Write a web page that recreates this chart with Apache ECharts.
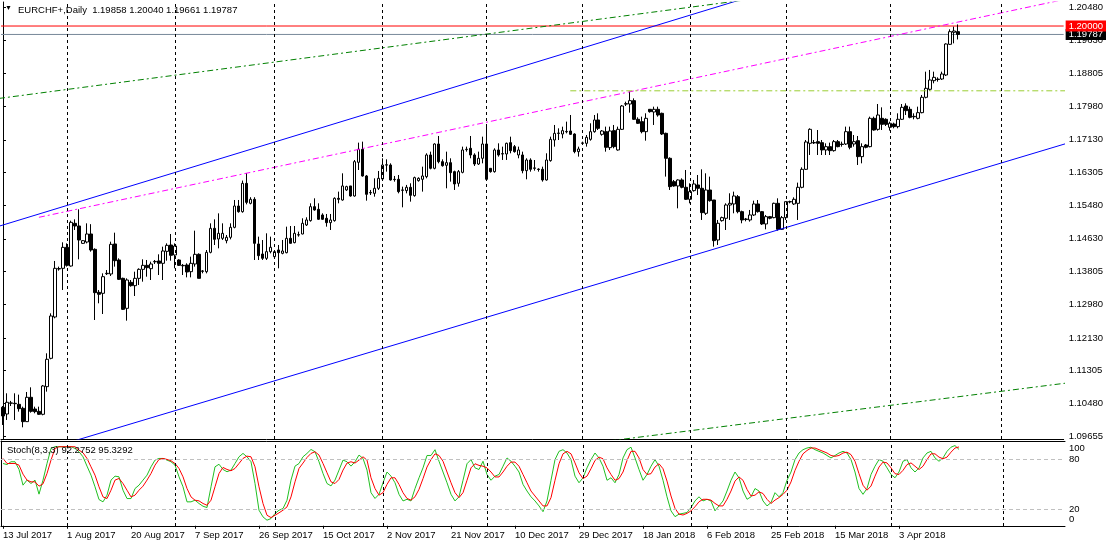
<!DOCTYPE html>
<html><head><meta charset="utf-8">
<script src="https://cdn.jsdelivr.net/npm/echarts@6/dist/echarts.min.js"></script>
<style>html,body{margin:0;padding:0;background:#fff}#c{width:1109px;height:547px}</style>
</head><body><div id="c"></div>
<script>
const symbolName = 'EURCHF+';
const periodName = 'Daily';
const startDate = [2017, 6, 13];
const missingDates = ['2017-12-24', '2017-12-31'];
const totalSlots = 266;
const labelEvery = 16;

const opens = [
1.10379,1.10210,1.10480,1.10480,1.10454,1.10353,1.10017,1.10631,1.10336,1.10277,
1.10202,1.10900,1.11615,1.12658,1.13869,1.13886,1.14415,1.13944,1.15021,1.14954,
1.14516,1.14550,1.14752,1.14365,1.13280,1.13255,1.13750,1.13743,1.14500,1.14096,
1.13633,1.12876,1.13532,1.13448,1.13633,1.13860,1.13961,1.13877,1.14050,1.14071,
1.14012,1.14314,1.14474,1.14222,1.14096,1.13960,1.13970,1.13801,1.13995,1.14239,
1.13820,1.13801,1.14289,1.14895,1.14626,1.14643,1.14584,1.14668,1.14920,1.15458,
1.15315,1.16030,1.15526,1.15627,1.14500,1.14247,1.14138,1.14306,1.14180,1.14349,
1.14264,1.14281,1.14643,1.14534,1.14727,1.14752,1.14980,1.15089,1.15442,1.15375,
1.15232,1.15148,1.15038,1.15089,1.15652,1.15610,1.15863,1.15964,1.15711,1.16561,
1.16889,1.16216,1.15790,1.15778,1.15905,1.16140,1.16490,1.16493,1.16132,1.16132,
1.15863,1.15846,1.15930,1.15720,1.16098,1.16132,1.16199,1.16746,1.16409,1.17023,
1.16577,1.16485,1.16552,1.16325,1.16031,1.16308,1.16880,1.16914,1.16746,1.16518,
1.16662,1.17023,1.16409,1.16325,1.16872,1.16770,1.16771,1.17057,1.16956,1.16746,
1.16746,1.16350,1.16619,1.16420,1.16390,1.16384,1.16115,1.16603,1.17124,1.17290,
1.17275,1.17330,1.17351,1.17275,1.16830,1.17040,1.17040,1.17141,1.17334,1.17629,
1.17267,1.17334,1.16931,1.17360,1.16872,1.17393,1.18030,1.18032,1.18117,1.17646,
1.17587,1.17334,1.17898,1.17831,1.17898,1.17797,1.17292,1.16662,1.16073,1.15964,
1.16115,1.15930,1.15627,1.15846,1.15989,1.15905,1.15274,1.15862,1.15610,1.14601,
1.15089,1.15148,1.15484,1.15510,1.15694,1.15316,1.15130,1.15106,1.15232,1.15510,
1.15316,1.15005,1.15190,1.15165,1.15526,1.14870,1.15165,1.15560,1.15510,1.15526,
1.15930,1.16384,1.17040,1.17050,1.17082,1.17057,1.16872,1.16956,1.16855,1.17082,
1.17020,1.17023,1.17334,1.17023,1.17107,1.16704,1.16998,1.16956,1.17671,1.17393,
1.17671,1.17646,1.17444,1.17528,1.17461,1.17646,1.17982,1.17898,1.17720,1.17671,
1.17814,1.18201,1.18403,1.18621,1.18660,1.18663,1.18764,1.19538,1.19841,1.19858];

const highs = [
1.10412,1.10732,1.10540,1.10732,1.10698,1.10395,1.10765,1.10883,1.10395,1.10395,
1.10942,1.11741,1.12750,1.14071,1.13928,1.14542,1.14516,1.15088,1.15122,1.15374,
1.14600,1.15021,1.15000,1.14390,1.13339,1.13759,1.13843,1.14558,1.14785,1.14138,
1.13650,1.13633,1.13591,1.13801,1.13886,1.14113,1.14096,1.14054,1.14096,1.14239,
1.14432,1.14516,1.14752,1.14516,1.14113,1.13995,1.14012,1.14180,1.14836,1.14264,
1.13843,1.14348,1.15021,1.15122,1.15273,1.15021,1.14727,1.15021,1.15610,1.15610,
1.16100,1.16290,1.15680,1.15680,1.14685,1.14600,1.14769,1.14685,1.14340,1.14475,
1.14601,1.14937,1.14954,1.14954,1.14811,1.15148,1.15173,1.15526,1.15652,1.15526,
1.15274,1.15257,1.15257,1.15677,1.15821,1.16283,1.15970,1.15964,1.16619,1.17057,
1.17082,1.16241,1.15863,1.16157,1.16342,1.16662,1.16636,1.16535,1.16216,1.16241,
1.15947,1.15990,1.16031,1.16199,1.16182,1.16451,1.16788,1.16830,1.17040,1.17225,
1.16636,1.16830,1.16662,1.16350,1.16367,1.16956,1.16956,1.17225,1.16788,1.16830,
1.17208,1.17460,1.16409,1.16914,1.17040,1.16956,1.17057,1.17208,1.16998,1.16956,
1.16830,1.16662,1.16662,1.16619,1.16409,1.16451,1.16788,1.17208,1.17503,1.17418,
1.17460,1.17587,1.17755,1.17292,1.16956,1.17082,1.17250,1.17545,1.17755,1.17797,
1.17376,1.17461,1.17461,1.17503,1.17461,1.18007,1.18091,1.18344,1.18175,1.17696,
1.17713,1.17797,1.17898,1.17965,1.17965,1.17814,1.17309,1.16687,1.16115,1.16132,
1.16157,1.16367,1.16031,1.16115,1.16241,1.16384,1.16283,1.16199,1.15610,1.15106,
1.15190,1.15526,1.15779,1.15821,1.15736,1.15341,1.15156,1.15358,1.15593,1.15610,
1.15333,1.15232,1.15207,1.15543,1.15652,1.15207,1.15568,1.15593,1.15677,1.16048,
1.16434,1.17124,1.17419,1.17124,1.17376,1.17124,1.17040,1.17057,1.17124,1.17124,
1.17082,1.17461,1.17461,1.17250,1.17225,1.17040,1.17023,1.17713,1.17713,1.18032,
1.17948,1.17671,1.17587,1.17562,1.17797,1.18032,1.18049,1.17965,1.17797,1.17965,
1.18260,1.18848,1.18891,1.18848,1.18705,1.18848,1.19563,1.19917,1.19984,1.20040];

const lows = [
1.09933,1.10059,1.10412,1.10059,1.10269,1.09874,1.10008,1.10244,1.10227,1.10185,
1.10177,1.10774,1.11590,1.12624,1.13827,1.13339,1.13928,1.13928,1.14853,1.14113,
1.14500,1.14516,1.14306,1.12582,1.13003,1.12733,1.13717,1.13692,1.13928,1.13591,
1.12834,1.12565,1.13423,1.13187,1.13465,1.13549,1.13675,1.13591,1.13995,1.13717,
1.13591,1.14079,1.14079,1.13886,1.13944,1.13717,1.13658,1.13658,1.13928,1.13633,
1.13760,1.13759,1.14264,1.14474,1.14390,1.14600,1.14516,1.14617,1.14895,1.15290,
1.15290,1.15500,1.15500,1.14096,1.14096,1.14096,1.14096,1.14264,1.14150,1.13886,
1.14240,1.14264,1.14510,1.14517,1.14685,1.14744,1.14954,1.15064,1.15341,1.15106,
1.15106,1.14937,1.14853,1.15064,1.15526,1.15593,1.15840,1.15694,1.15694,1.16367,
1.16199,1.15593,1.15736,1.15694,1.15863,1.16115,1.16325,1.16098,1.16073,1.15778,
1.15425,1.15778,1.15568,1.15694,1.16073,1.15821,1.16157,1.16384,1.16384,1.16535,
1.16451,1.15905,1.16073,1.15863,1.15947,1.16283,1.16830,1.16662,1.16468,1.16493,
1.16535,1.16098,1.16300,1.16300,1.16704,1.16620,1.16620,1.16788,1.16805,1.16662,
1.16283,1.16132,1.16325,1.16350,1.16325,1.16073,1.16098,1.16577,1.16956,1.17124,
1.17166,1.17292,1.17250,1.16788,1.16704,1.16998,1.16956,1.17107,1.17309,1.17376,
1.17233,1.16830,1.16872,1.16914,1.16855,1.17376,1.17982,1.17814,1.17629,1.17528,
1.17292,1.17107,1.17814,1.17503,1.17713,1.17250,1.16200,1.15863,1.15947,1.15400,
1.15905,1.15610,1.15526,1.15821,1.15737,1.15106,1.15232,1.15568,1.14433,1.14475,
1.15064,1.14853,1.15106,1.15274,1.15274,1.15022,1.15072,1.15064,1.15207,1.15291,
1.14980,1.14870,1.15123,1.15148,1.14837,1.14853,1.15106,1.15526,1.15484,1.15106,
1.15905,1.16367,1.16746,1.17023,1.16745,1.16745,1.16745,1.16745,1.16830,1.16940,
1.16956,1.16998,1.16889,1.16956,1.16493,1.16535,1.16914,1.16939,1.17360,1.17360,
1.17376,1.17477,1.17360,1.17419,1.17419,1.17629,1.17755,1.17671,1.17646,1.17646,
1.17797,1.18175,1.18369,1.18554,1.18596,1.18638,1.18739,1.19521,1.19563,1.19661];

const closes = [
1.10160,1.10505,1.10490,1.10470,1.10345,1.10017,1.10631,1.10277,1.10269,1.10202,
1.10917,1.11590,1.12683,1.13886,1.13880,1.14415,1.13961,1.15046,1.14954,1.14600,
1.14584,1.14752,1.14348,1.13272,1.13230,1.13675,1.13760,1.14491,1.14079,1.13608,
1.12851,1.13591,1.13448,1.13633,1.13860,1.13961,1.13902,1.13995,1.14060,1.14012,
1.14323,1.14466,1.14214,1.14449,1.13961,1.13950,1.13793,1.14012,1.14239,1.13633,
1.13810,1.14289,1.14895,1.14617,1.14769,1.14769,1.14668,1.14920,1.15458,1.15315,
1.16030,1.15550,1.15627,1.14516,1.14205,1.14138,1.14306,1.14416,1.14306,1.14281,
1.14323,1.14643,1.14517,1.14769,1.14735,1.15022,1.15106,1.15442,1.15358,1.15123,
1.15123,1.15038,1.15106,1.15652,1.15627,1.15964,1.15947,1.15711,1.16577,1.16889,
1.16216,1.15753,1.15800,1.15905,1.16157,1.16493,1.16500,1.16115,1.16125,1.15821,
1.15855,1.15930,1.15728,1.16174,1.16157,1.16216,1.16746,1.16409,1.17023,1.16577,
1.16476,1.16552,1.16300,1.16014,1.16325,1.16872,1.16890,1.16746,1.16518,1.16662,
1.17023,1.16132,1.16325,1.16872,1.16746,1.16780,1.17040,1.16855,1.16830,1.16872,
1.16350,1.16619,1.16384,1.16410,1.16380,1.16115,1.16619,1.17141,1.17292,1.17300,
1.17360,1.17340,1.17267,1.16830,1.16897,1.17050,1.17191,1.17334,1.17629,1.17418,
1.17351,1.16939,1.17351,1.16956,1.17393,1.17982,1.18040,1.18117,1.17646,1.17545,
1.17334,1.17671,1.17839,1.17898,1.17755,1.17275,1.16662,1.15947,1.15964,1.16115,
1.15930,1.15627,1.15821,1.16014,1.15905,1.15291,1.15862,1.15593,1.14584,1.15022,
1.15165,1.15484,1.15526,1.15711,1.15316,1.15106,1.15120,1.15232,1.15510,1.15316,
1.15005,1.15190,1.15150,1.15526,1.14870,1.15165,1.15568,1.15570,1.15627,1.15930,
1.16384,1.17074,1.17393,1.17060,1.17040,1.16872,1.16956,1.16855,1.17082,1.16956,
1.17010,1.17334,1.16939,1.17082,1.16704,1.16956,1.16939,1.17671,1.17376,1.17755,
1.17519,1.17519,1.17545,1.17461,1.17646,1.17948,1.17864,1.17696,1.17710,1.17814,
1.18201,1.18428,1.18638,1.18705,1.18650,1.18789,1.19546,1.19858,1.19874,1.19787];

// Stochastic %K (main, green) and %D (signal, red), read bar by bar
const stochK = [
75.3,74.0,77.4,77.4,68.1,49.1,55.2,51.1,55.2,38.2, 55.2,75.3,93.5,95.6,95.6,95.5,95.4,95.6,93.5,89.5,
83.4,72.1,61.2,47.1,31.7,28.9,37.0,55.2,60.0,59.2, 43.0,32.9,32.9,45.0,49.1,55.2,61.2,71.3,79.4,81.4,
81.4,79.4,77.4,73.3,59.2,47.1,28.9,28.9,30.9,26.9, 23.6,22.0,47.1,71.3,74.4,68.1,65.3,67.3,75.3,83.4,
87.5,83.4,77.4,51.1,18.8,10.7,6.7,8.7,14.8,18.8, 20.8,30.9,55.2,72.1,75.3,83.4,87.5,92.3,89.5,77.4,
63.2,51.1,48.2,55.2,67.3,79.4,77.4,72.1,77.4,85.5, 81.4,67.3,40,33,38,52,65,60,52,38,
30,32,30,45,58,70,85,85,92,78, 65,52,38,30,35,55,75,80,70,68,
78,62,55,60,62,72,82,78,72,65, 50,42,35,30,24,17,30,55,80,90,
92,88,80,60,52,58,70,80,88,82, 72,55,58,52,62,82,92,95,82,68,
55,62,72,80,72,55,35,18,11,14, 15,16,22,30,35,30,32,30,18,24,
30,42,55,65,58,42,32,35,45,42, 30,24,28,40,35,40,55,65,80,88,
92,94,95,92,90,88,85,82,85,88, 90,88,80,65,45,38,45,62,72,80,
78,70,62,58,65,78,80,70,65,70, 82,88,90,82,78,82,90,95,97,92.2752];
const stochD = [
81.4,75.3,75.3,75.3,73.3,62.4,55.2,53.1,53.1,47.9, 50.7,63.2,79.4,93.5,95.6,95.6,95.6,95.6,95.6,91.5,
88.3,81.4,71.3,61.2,47.1,34.9,32.9,43.0,55.2,57.2, 51.1,43.0,34.9,37.0,43.0,47.9,55.2,63.2,73.3,80.2,
81.4,80.2,78.6,75.3,69.3,59.2,45.0,34.9,30.9,30.1, 26.9,24.8,30.9,47.1,63.2,70.5,68.1,66.5,69.3,75.3,
81.4,84.2,83.4,71.3,47.1,26.9,12.7,9.9,12.7,15.6, 18.8,22.8,34.9,53.1,69.3,75.8,82.6,87.5,89.5,85.5,
75.3,64.1,53.1,51.1,56.0,67.3,75.8,77.4,75.8,79.4, 83.4,79.4,58,45,37,40,50,58,58,50,
40,33,31,35,44,57,71,80,87,85, 78,65,52,40,34,40,55,70,75,73,
72,70,65,59,59,65,72,77,77,72, 62,52,42,36,30,24,24,34,55,75,
87,90,87,76,64,57,60,69,79,83, 81,70,62,55,57,65,79,90,90,82,
68,62,63,71,75,69,54,36,21,14, 13,15,18,23,29,32,32,31,27,24,
24,32,42,54,59,55,44,36,37,41, 39,32,27,31,34,38,43,53,67,78,
87,91,94,94,92,90,88,85,84,85, 88,89,86,78,63,49,43,48,60,71,
77,76,70,63,62,67,74,76,72,68, 72,80,87,87,83,81,83,89,94,95.3292];

const priceTicks = [1.20480,1.19630,1.18805,1.17980,1.17130,1.16305,1.15480,1.14630,1.13805,1.12980,1.12130,1.11305,1.10480,1.09655];
const stochTicks = [100, 80, 20, 0];
const stochLevels = [80, 20];
const roundLevel = 1.20000;
const resistanceLevel = 1.18365;
const resistanceStartBar = 142;

// trend line anchors: [bar index, price]
const blueUpper = [[0, 1.14979], [94.25, 1.17881]];
const blueLower = [[27.5, 1.09824], [265.75, 1.17023]];
const greenUpper = [[-0.75, 1.18176], [121.25, 1.19799]];
const greenLower = [[157, 1.09597], [265.75, 1.10985]];
const magentaRay = [[9, 1.15173], [259.5, 1.20538]];

const PRICE_MIN = 1.09579, PRICE_MAX = 1.20606;
const FONT = 'Liberation Sans';
const FS = 9.5;

// ---------- build calendar ----------
const MON = ['Jan','Feb','Mar','Apr','May','Jun','Jul','Aug','Sep','Oct','Nov','Dec'];
const dates = [];
let d = new Date(Date.UTC(startDate[0], startDate[1], startDate[2]));
while (dates.length < opens.length) {
  const iso = d.toISOString().slice(0, 10);
  if (d.getUTCDay() !== 6 && missingDates.indexOf(iso) < 0) dates.push(new Date(d));
  d = new Date(d.getTime() + 86400000);
}
while (dates.length < totalSlots) { dates.push(new Date(d)); d = new Date(d.getTime() + 86400000); }
const cats = dates.map(x => x.getUTCDate() + ' ' + MON[x.getUTCMonth()] + ' ' + x.getUTCFullYear());
const monthStarts = [];
for (let i = 1; i < dates.length; i++) if (dates[i].getUTCMonth() !== dates[i-1].getUTCMonth()) monthStarts.push(i);

const nBars = opens.length;
const bidPrice = closes[nBars - 1];

function extend(a, b, x0, x1) {
  const s = (b[1] - a[1]) / (b[0] - a[0]);
  return [[x0, a[1] + s * (x0 - a[0])], [x1, a[1] + s * (x1 - a[0])]];
}
const XL = -1, XR = totalSlots;
function trend(data, color, type, z) {
  return { type: 'line', xAxisIndex: 1, yAxisIndex: 0, data: data, symbol: 'none', silent: true,
    clip: true, z: z || 4, lineStyle: { color: color, width: 1, type: type } };
}
const DASHDOT = [6, 3, 2, 3];

function vGrid(xIdx, yIdx) {
  return { type: 'line', xAxisIndex: xIdx, yAxisIndex: yIdx, data: [], z: 1, silent: true,
    markLine: { symbol: 'none', silent: true, animation: false, label: { show: false },
      lineStyle: { color: '#000', type: [3, 3], width: 1 }, data: monthStarts.map(i => ({ xAxis: i })) } };
}
function priceTag(value, bg) {
  return { type: 'value', gridIndex: 0, position: 'right', min: PRICE_MIN, max: PRICE_MAX, z: 10,
    axisLine: { show: false }, axisTick: { show: false }, splitLine: { show: false },
    axisLabel: { show: true, customValues: [value], margin: 2, hideOverlap: false, fontSize: FS, fontFamily: FONT,
      color: '#fff', backgroundColor: bg, padding: [1, 3, 0, 3], formatter: v => v.toFixed(5) } };
}

const chart = echarts.init(document.getElementById('c'), null, { renderer: 'canvas' });

const option = {
  animation: false,
  backgroundColor: '#fff',
  textStyle: { fontFamily: FONT },
  title: [
    { text: '▼', left: 5, top: 5, padding: 0, textStyle: { fontSize: 7, color: '#000', fontWeight: 'normal' } },
    { text: symbolName + ',' + periodName + '  ' + [opens, highs, lows, closes].map(a => a[nBars - 1].toFixed(5)).join(' '),
      left: 18, top: 5, padding: 0, textStyle: { fontSize: FS, color: '#000', fontWeight: 'normal', fontFamily: FONT } },
    { text: 'Stoch(8,3,3) ' + stochK[nBars - 1].toFixed(4) + ' ' + stochD[nBars - 1].toFixed(4),
      left: 7, top: 445, padding: 0, textStyle: { fontSize: FS, color: '#000', fontWeight: 'normal', fontFamily: FONT } }
  ],
  grid: [
    { left: 1, top: 2, width: 1064, height: 437 },
    { left: 1, top: 441, width: 1064, height: 85 }
  ],
  xAxis: [
    { type: 'category', gridIndex: 0, data: cats, boundaryGap: true,
      axisLine: { show: true, lineStyle: { color: '#000' } }, axisTick: { show: false }, axisLabel: { show: false }, splitLine: { show: false } },
    { type: 'value', gridIndex: 0, min: -0.5, max: totalSlots - 0.5, show: false },
    { type: 'category', gridIndex: 1, data: cats, boundaryGap: true,
      axisLine: { show: true, lineStyle: { color: '#000' } },
      axisTick: { show: true, alignWithLabel: true, length: 3, interval: (i) => i % labelEvery === 0 && i < nBars, lineStyle: { color: '#000' } },
      axisLabel: { show: true, interval: (i) => i % labelEvery === 0 && i < nBars, align: 'left', margin: 4,
        fontSize: FS, color: '#000', fontFamily: FONT },
      splitLine: { show: false } },
    { type: 'value', gridIndex: 1, position: 'top', min: 0, max: 1,
      axisLine: { show: true, lineStyle: { color: '#000' } }, axisTick: { show: false }, axisLabel: { show: false }, splitLine: { show: false } }
  ],
  yAxis: [
    { type: 'value', gridIndex: 0, position: 'right', min: PRICE_MIN, max: PRICE_MAX,
      axisLine: { show: true, lineStyle: { color: '#000' } },
      axisTick: { show: true, length: 3, customValues: priceTicks, lineStyle: { color: '#000' } },
      axisLabel: { show: true, customValues: priceTicks, formatter: v => v.toFixed(5), margin: 5, fontSize: FS, color: '#000', fontFamily: FONT },
      splitLine: { show: false } },
    { type: 'value', gridIndex: 1, position: 'right', min: -0.3, max: 102.5,
      axisLine: { show: true, lineStyle: { color: '#000' } },
      axisTick: { show: false },
      axisLabel: { show: true, customValues: stochTicks, margin: 4, fontSize: FS, color: '#000', fontFamily: FONT,
        formatter: v => v === 100 ? '{t|100}' : (v === 0 ? '{b|0}' : String(v)),
        rich: { t: { fontSize: FS, color: '#000', fontFamily: FONT, padding: [10, 0, 0, 0] },
                b: { fontSize: FS, color: '#000', fontFamily: FONT, padding: [0, 0, 12, 0] } } },
      splitLine: { show: false } },
    priceTag(bidPrice, '#000000'),
    priceTag(roundLevel, '#ff0000')
  ],
  series: [
    vGrid(0, 0),
    vGrid(2, 1),
    { type: 'line', xAxisIndex: 2, yAxisIndex: 1, data: [], z: 1, silent: true,
      markLine: { symbol: 'none', silent: true, animation: false, label: { show: false },
        lineStyle: { color: '#c0c0c0', type: [4, 3], width: 1 }, data: stochLevels.map(v => ({ yAxis: v })) } },
    { type: 'candlestick', xAxisIndex: 0, yAxisIndex: 0, barWidth: 3, z: 3,
      data: opens.map((o, i) => [o, closes[i], lows[i], highs[i]]),
      itemStyle: { color: '#ffffff', color0: '#000000', borderColor: '#000000', borderColor0: '#000000', borderWidth: 1 } },
    trend([[-0.5, bidPrice], [totalSlots - 0.5, bidPrice]], '#778899', 'solid', 2),
    trend([[-0.5, roundLevel], [totalSlots - 0.5, roundLevel]], '#ff0000', 'solid', 2),
    trend(extend(blueUpper[0], blueUpper[1], XL, XR), '#0000ff', 'solid'),
    trend(extend(blueLower[0], blueLower[1], XL, XR), '#0000ff', 'solid'),
    trend(extend(greenUpper[0], greenUpper[1], XL, XR), '#008000', DASHDOT),
    trend(extend(greenLower[0], greenLower[1], XL, XR), '#008000', DASHDOT),
    trend(extend(magentaRay[0], magentaRay[1], magentaRay[0][0], XR), '#ff00ff', DASHDOT),
    trend([[resistanceStartBar, resistanceLevel], [totalSlots, resistanceLevel]], '#9acd32', DASHDOT),
    { type: 'line', xAxisIndex: 2, yAxisIndex: 1, data: stochK, symbol: 'none', z: 3,
      lineStyle: { color: '#22c022', width: 1 } },
    { type: 'line', xAxisIndex: 2, yAxisIndex: 1, data: stochD, symbol: 'none', z: 4,
      lineStyle: { color: '#ff0000', width: 1 } }
  ]
};
chart.setOption(option);
</script>
</body></html>
